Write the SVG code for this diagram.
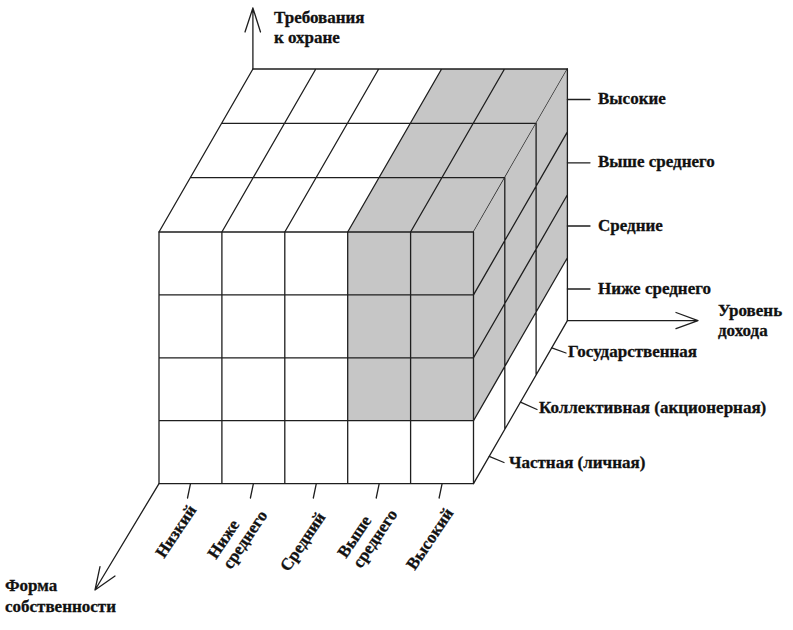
<svg xmlns="http://www.w3.org/2000/svg" width="793" height="630" viewBox="0 0 793 630">
<style>
.ln{stroke:#1e1e1e;stroke-width:1.3;fill:none;stroke-linecap:round;stroke-linejoin:round}
.wf{fill:#ffffff}
.gf{fill:#c6c6c6}
.t{font-family:"Liberation Serif","Times New Roman","DejaVu Serif",serif;font-weight:bold;font-size:17px;fill:#111;stroke:#111;stroke-width:0.3}
</style>
<rect width="793" height="630" fill="#ffffff"/>
<g id="cube">
  <g id="top-face">
    <polygon class="wf" points="159,232 347.7,232 441.6,69 252.9,69"/>
    <polygon class="gf" points="347.7,232 473.5,232 567.4,69 441.6,69"/>
    <path class="ln" d="M252.9,69H567.4M190.3,177.67H504.8M221.6,123.33H536.1M159,232L252.9,69M221.9,232L315.8,69M284.8,232L378.7,69M347.7,232L441.6,69M410.6,232L504.5,69M473.5,232L567.4,69"/>
  </g>
  <g id="right-face">
    <polygon class="gf" points="473.5,232 567.4,69 567.4,257.7 473.5,420.7"/>
    <polygon class="wf" points="473.5,420.7 567.4,257.7 567.4,320.6 473.5,483.6"/>
    <path class="ln" d="M504.8,177.67V429.27M536.1,123.33V374.93M567.4,69V320.6M473.5,294.9L567.4,131.9M473.5,357.8L567.4,194.8M473.5,420.7L567.4,257.7M473.5,483.6L567.4,320.6"/>
  </g>
  <g id="front-face">
    <rect class="wf" x="159" y="232" width="314.5" height="251.6"/>
    <rect class="gf" x="347.7" y="232" width="125.8" height="188.7"/>
    <path class="ln" d="M159,232H473.5V483.6H159ZM221.9,232V483.6M284.8,232V483.6M347.7,232V483.6M410.6,232V483.6M159,294.9H473.5M159,357.8H473.5M159,420.7H473.5"/>
  </g>
</g>
<g id="connectors">
  <path id="axis-protection" class="ln" d="M252.9,69V8M245,32L252.9,8L260.5,32"/>
  <path id="axis-income" class="ln" d="M567.4,320.6H698M676,312.5L698,320.6L676,328.7"/>
  <path id="axis-ownership" class="ln" d="M159,483.6L95,590M100,566.7L95,590L115,576"/>
  <path id="ticks-right" class="ln" d="M567.4,99.5H590M567.4,162.8H590M567.4,226H590M567.4,289H590"/>
  <path id="ticks-ownership" class="ln" d="M489.2,456.4L504,462.5M520.5,402.1L537,409.5M551.8,347.8L566,353"/>
  <path id="ticks-bottom" class="ln" d="M190.5,483.6L187.5,498M253.4,483.6L250.4,498M316.3,483.6L313.3,498M379.2,483.6L376.2,498M442.1,483.6L439.1,498"/>
</g>
<g id="label-protection">
  <text class="t" x="274" y="23">Требования</text>
  <text class="t" x="274" y="43">к охране</text>
</g>
<g id="labels-protection-levels">
  <text class="t" x="598" y="104">Высокие</text>
  <text class="t" x="598" y="167">Выше среднего</text>
  <text class="t" x="598" y="231">Средние</text>
  <text class="t" x="598" y="294">Ниже среднего</text>
</g>
<g id="label-income">
  <text class="t" x="718" y="316">Уровень</text>
  <text class="t" x="718" y="336">дохода</text>
</g>
<g id="labels-ownership-forms">
  <text class="t" x="568" y="357">Государственная</text>
  <text class="t" x="539" y="413">Коллективная (акционерная)</text>
  <text class="t" x="509" y="468">Частная (личная)</text>
</g>
<g id="label-ownership">
  <text class="t" x="5" y="591">Форма</text>
  <text class="t" x="5" y="612">собственности</text>
</g>
<g id="labels-income-levels">
  <text class="t" text-anchor="end" transform="translate(197,510) rotate(-56)">Низкий</text>
  <g transform="translate(231,570) rotate(-56)">
    <text class="t" x="0" y="-18">Ниже</text>
    <text class="t" x="0" y="0">среднего</text>
  </g>
  <text class="t" text-anchor="end" transform="translate(326,517) rotate(-56)">Средний</text>
  <g transform="translate(361,569) rotate(-56)">
    <text class="t" x="0" y="-18">Выше</text>
    <text class="t" x="0" y="0">среднего</text>
  </g>
  <text class="t" text-anchor="end" transform="translate(454,513) rotate(-56)">Высокий</text>
</g>
</svg>
